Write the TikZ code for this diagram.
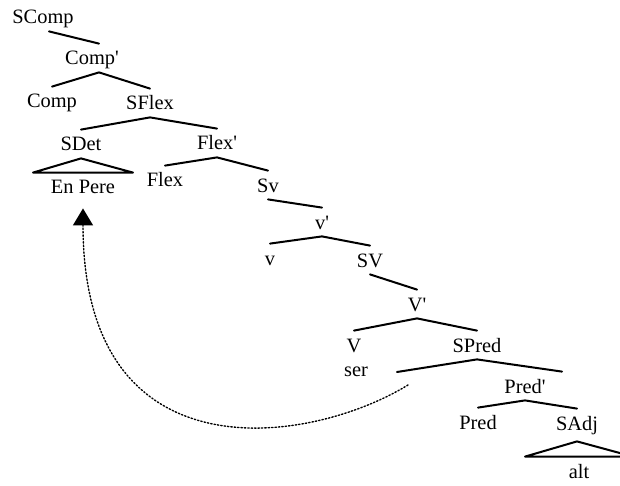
\documentclass[tikz,border=0pt]{standalone}
\usepackage{fontspec}
\setmainfont{Liberation Serif}
\usetikzlibrary{arrows.meta}

\begin{document}
\begin{tikzpicture}[line cap=round,line join=round,x=0.5pt,y=-0.5pt,
  lbl/.style={inner sep=0pt,anchor=base,text height=10.5pt,text depth=3.5pt,font=\fontsize{10.2}{12}\selectfont},
  br/.style={line width=1pt},
  move/.style={densely dotted,line width=0.7pt,-{Triangle[width=10pt,length=8.5pt]}}]
\useasboundingbox (0,0) rectangle (620,486);
\clip (0,0) rectangle (620,486);
\node [lbl] (SComp) at (43,24) {SComp};
\node [lbl] (Compbar) at (92,65) {Comp\textquotesingle};
\node [lbl] (Comp) at (52,108) {Comp};
\node [lbl] (SFlex) at (150,110) {SFlex};
\node [lbl] (SDet) at (81,151) {SDet};
\node [lbl] (Flexbar) at (217,150) {Flex\textquotesingle};
\node [lbl] (EnPere) at (83,194) {En Pere};
\node [lbl] (Flex) at (165,187) {Flex};
\node [lbl] (Sv) at (268,192) {Sv};
\node [lbl] (vbar) at (322,229) {v\textquotesingle};
\node [lbl] (v) at (270,265) {v};
\node [lbl] (SV) at (370,267) {SV};
\node [lbl] (Vbar) at (417,311) {V\textquotesingle};
\node [lbl] (V) at (354,352) {V};
\node [lbl] (ser) at (356,376) {ser};
\node [lbl] (SPred) at (477,352) {SPred};
\node [lbl] (Predbar) at (525,393) {Pred\textquotesingle};
\node [lbl] (Pred) at (478,429) {Pred};
\node [lbl] (SAdj) at (577,430) {SAdj};
\node [lbl] (alt) at (579,478) {alt};
\coordinate (trace) at (397,372);
\coordinate (tail) at (408,385);
% branches
\draw [br] ([xshift=3pt]SComp.south) -- ([xshift=3.5pt]Compbar.north);
\draw [br] (Comp.north) -- ([xshift=3.5pt]Compbar.south) -- (SFlex.north);
\draw [br] (SDet.north) -- (SFlex.south) -- (Flexbar.north);
\draw [br] (Flex.north) -- (Flexbar.south) -- (Sv.north);
\draw [br] (Sv.south) -- (vbar.north);
\draw [br] (v.north) -- (vbar.south) -- (SV.north);
\draw [br] (SV.south) -- (Vbar.north);
\draw [br] (V.north) -- (Vbar.south) -- (SPred.north);
\draw [br] (trace) -- (SPred.south) -- ([xshift=18.5pt]Predbar.north);
\draw [br] (Pred.north) -- (Predbar.south) -- (SAdj.north);
% triangles
\draw [br] (SDet.south) -- ([xshift=-25pt]EnPere.north) -- ([xshift=25pt]EnPere.north) -- cycle;
\draw [br] ([yshift=-2pt]SAdj.south) -- ([xshift=-27pt]alt.north) -- ([xshift=27pt]alt.north) -- cycle;
% movement
\draw [move] (tail) .. controls (310,445) and (83,480) .. ([yshift=-3.5pt]EnPere.south);
\end{tikzpicture}
\end{document}
